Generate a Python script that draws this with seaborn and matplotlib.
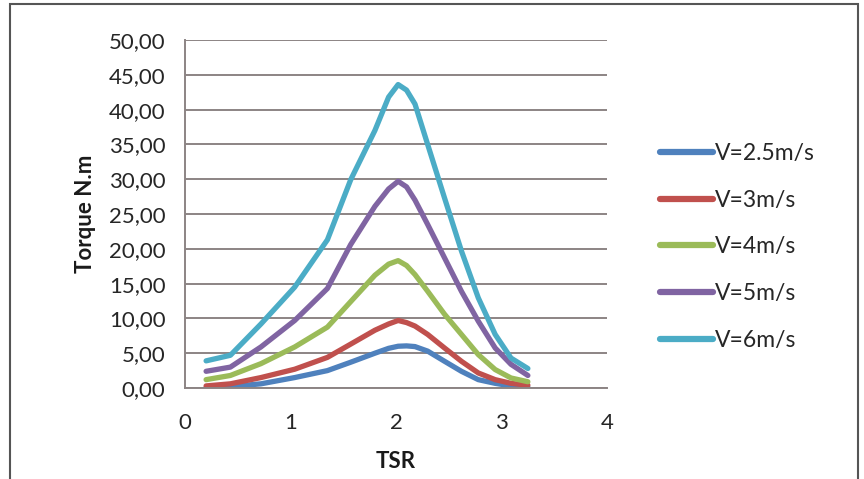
import matplotlib
matplotlib.use("Agg")
import matplotlib.pyplot as plt
import matplotlib.ticker as mticker
from matplotlib.patches import Rectangle
import seaborn as sns
import pandas as pd

# ---- data ----
tsr = [0.2, 0.43, 0.72, 1.04, 1.35, 1.57, 1.8, 1.93, 2.02, 2.1, 2.18, 2.3, 2.46, 2.62, 2.78, 2.94, 3.09, 3.25]
v25 = [0.05, 0.2, 0.6, 1.5, 2.5, 3.7, 5.0, 5.7, 6.0, 6.05, 5.95, 5.3, 3.84, 2.4, 1.2, 0.67, 0.3, 0.1]
v3 = [0.3, 0.6, 1.5, 2.7, 4.4, 6.3, 8.3, 9.2, 9.7, 9.4, 8.9, 7.7, 5.75, 3.84, 2.16, 1.2, 0.67, 0.4]
v4 = [1.2, 1.8, 3.5, 5.9, 8.75, 12.4, 16.2, 17.8, 18.3, 17.6, 16.3, 13.9, 10.6, 7.7, 4.8, 2.65, 1.44, 0.9]
v5 = [2.4, 3.0, 5.9, 9.7, 14.3, 20.6, 26.1, 28.6, 29.7, 28.9, 27.0, 23.5, 18.7, 13.9, 9.6, 5.75, 3.4, 1.8]
v6 = [3.9, 4.7, 9.2, 14.5, 21.3, 29.9, 37.0, 41.8, 43.6, 42.8, 40.8, 35.0, 27.3, 19.7, 12.95, 7.7, 4.3, 2.8]
series_names = ["V=2.5m/s", "V=3m/s", "V=4m/s", "V=5m/s", "V=6m/s"]
series_values = [v25, v3, v4, v5, v6]
colors = ["#4F81BD", "#C0504D", "#9BBB59", "#8064A2", "#4BACC6"]
x_ticks = [0, 1, 2, 3, 4]
y_ticks = [0, 5, 10, 15, 20, 25, 30, 35, 40, 45, 50]
x_label = "TSR"
y_label = "Torque N.m"

rows = []
for name, vals in zip(series_names, series_values):
    for x, y in zip(tsr, vals):
        rows.append({"TSR": x, "Torque": y, "Series": name})
df = pd.DataFrame(rows)

sns.set_theme(style="white")
plt.rcParams["font.family"] = ["Lato", "DejaVu Sans"]

fig = plt.figure(figsize=(8.64, 4.79), dpi=100)
ax = fig.add_axes([185 / 864, 1 - 388 / 479, (607 - 185) / 864, (388 - 40) / 479])

sns.lineplot(data=df, x="TSR", y="Torque", hue="Series", hue_order=series_names,
             palette=colors, linewidth=3.8, ax=ax, legend=False, sort=False,
             estimator=None)
for ln in ax.get_lines():
    ln.set_solid_capstyle("round")
    ln.set_solid_joinstyle("round")

ax.set_xlim(0, 4)
ax.set_ylim(0, 50)
ax.set_xticks(x_ticks)
ax.set_yticks(y_ticks)
ax.yaxis.set_major_formatter(mticker.FuncFormatter(lambda v, p: f"{v:.2f}".replace(".", ",")))

grid_col = "#8c8484"
ax.grid(axis="y", color=grid_col, linewidth=1.4)
ax.grid(axis="x", visible=False)
ax.set_axisbelow(True)
for s in ["top", "right"]:
    ax.spines[s].set_visible(False)
for s in ["left", "bottom"]:
    ax.spines[s].set_color(grid_col)
    ax.spines[s].set_linewidth(1.4)

text_col = "#262626"
ax.tick_params(axis="both", length=0, labelsize=16, labelcolor=text_col)
ax.tick_params(axis="y", pad=14)
ax.tick_params(axis="x", pad=18)

ax.set_xlabel(x_label, fontsize=16, fontweight="bold", color="#1a1a1a", labelpad=13)
ax.set_ylabel(y_label, fontsize=16, fontweight="bold", color="#1a1a1a", labelpad=9)

handles = [plt.Line2D([], [], color=c, linewidth=4.5) for c in colors]
fig.legend(handles, series_names, loc="center left", bbox_to_anchor=(660 / 864, 1 - 247 / 479),
           bbox_transform=fig.transFigure, frameon=False, fontsize=16.5, borderpad=0,
           borderaxespad=0, handlelength=2.3, handletextpad=0.1, labelspacing=1.12,
           labelcolor=text_col)

fig.patches.append(Rectangle((10 / 864, -0.05), (858 - 10) / 864, 1.05 - 4 / 479,
                             transform=fig.transFigure, fill=False, edgecolor="#555555",
                             linewidth=1.5))

fig.savefig("out.png", dpi=100)
